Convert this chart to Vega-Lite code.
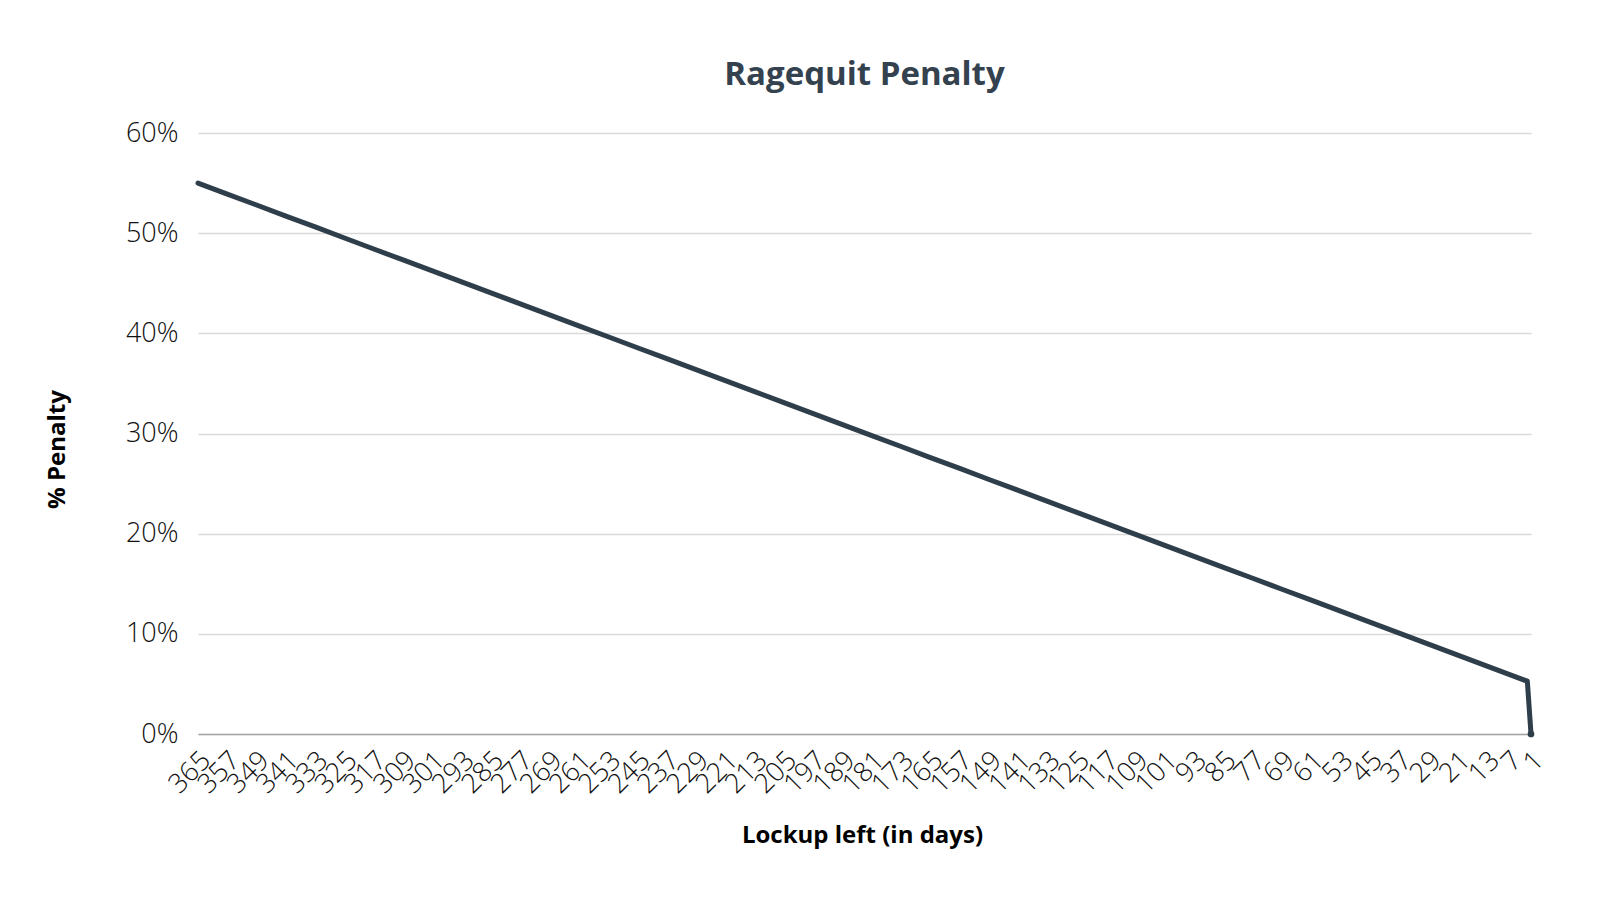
{
  "$schema": "https://vega.github.io/schema/vega-lite/v6.json",
  "width": 1333,
  "height": 601,
  "autosize": {"type": "none"},
  "padding": {"left": 198, "top": 133, "right": 69, "bottom": 166},
  "background": "white",
  "title": {
    "text": "Ragequit Penalty",
    "font": "Open Sans",
    "fontSize": 33,
    "fontWeight": "bold",
    "color": "#34424f",
    "anchor": "middle",
    "baseline": "bottom",
    "frame": "group",
    "offset": 47,
    "dy": 53
  },
  "data": {
    "values": [
      {"days": 365, "penalty": 0.55},
      {"days": 357, "penalty": 0.539},
      {"days": 349, "penalty": 0.5281},
      {"days": 341, "penalty": 0.5171},
      {"days": 333, "penalty": 0.5062},
      {"days": 325, "penalty": 0.4952},
      {"days": 317, "penalty": 0.4842},
      {"days": 309, "penalty": 0.4733},
      {"days": 301, "penalty": 0.4623},
      {"days": 293, "penalty": 0.4514},
      {"days": 285, "penalty": 0.4404},
      {"days": 277, "penalty": 0.4295},
      {"days": 269, "penalty": 0.4185},
      {"days": 261, "penalty": 0.4075},
      {"days": 253, "penalty": 0.3966},
      {"days": 245, "penalty": 0.3856},
      {"days": 237, "penalty": 0.3747},
      {"days": 229, "penalty": 0.3637},
      {"days": 221, "penalty": 0.3527},
      {"days": 213, "penalty": 0.3418},
      {"days": 205, "penalty": 0.3308},
      {"days": 197, "penalty": 0.3199},
      {"days": 189, "penalty": 0.3089},
      {"days": 181, "penalty": 0.2979},
      {"days": 173, "penalty": 0.287},
      {"days": 165, "penalty": 0.276},
      {"days": 157, "penalty": 0.2651},
      {"days": 149, "penalty": 0.2541},
      {"days": 141, "penalty": 0.2432},
      {"days": 133, "penalty": 0.2322},
      {"days": 125, "penalty": 0.2212},
      {"days": 117, "penalty": 0.2103},
      {"days": 109, "penalty": 0.1993},
      {"days": 101, "penalty": 0.1884},
      {"days": 93, "penalty": 0.1774},
      {"days": 85, "penalty": 0.1664},
      {"days": 77, "penalty": 0.1555},
      {"days": 69, "penalty": 0.1445},
      {"days": 61, "penalty": 0.1336},
      {"days": 53, "penalty": 0.1226},
      {"days": 45, "penalty": 0.1116},
      {"days": 37, "penalty": 0.1007},
      {"days": 29, "penalty": 0.0897},
      {"days": 21, "penalty": 0.0788},
      {"days": 13, "penalty": 0.0678},
      {"days": 7, "penalty": 0.0596},
      {"days": 2, "penalty": 0.0527},
      {"days": 1, "penalty": 0}
    ]
  },
  "encoding": {
    "x": {
      "field": "days",
      "type": "quantitative",
      "scale": {"domain": [365, 1], "nice": false, "zero": false},
      "axis": {
        "title": "Lockup left (in days)",
        "values": [365, 357, 349, 341, 333, 325, 317, 309, 301, 293, 285, 277, 269, 261, 253, 245, 237, 229, 221, 213, 205, 197, 189, 181, 173, 165, 157, 149, 141, 133, 125, 117, 109, 101, 93, 85, 77, 69, 61, 53, 45, 37, 29, 21, 13, 7, 1],
        "labelAngle": -45,
        "labelAlign": "right",
        "labelBaseline": "middle",
        "labelFont": "Open Sans",
        "labelFontSize": 27,
        "labelFontWeight": 300,
        "labelColor": "#111111",
        "labelPadding": 22,
        "labelOffset": 8,
        "labelOverlap": false,
        "labelFlush": false,
        "labelBound": false,
        "ticks": false,
        "grid": false,
        "domain": true,
        "domainColor": "#a6a6a6",
        "domainWidth": 1.5,
        "titleFont": "Open Sans",
        "titleFontSize": 24,
        "titleFontWeight": "bold",
        "titleColor": "#000000",
        "titleX": 664,
        "titleY": 101,
        "titleBaseline": "middle",
        "titleAnchor": "middle"
      }
    },
    "y": {
      "field": "penalty",
      "type": "quantitative",
      "scale": {"domain": [0, 0.6], "nice": false},
      "axis": {
        "title": "% Penalty",
        "format": ".0%",
        "values": [0, 0.1, 0.2, 0.3, 0.4, 0.5, 0.6],
        "labelFont": "Open Sans",
        "labelFontSize": 27,
        "labelFontWeight": 300,
        "labelColor": "#111111",
        "labelPadding": 20,
        "ticks": false,
        "domain": false,
        "grid": true,
        "gridColor": "#d9d9d9",
        "gridWidth": 1.5,
        "titleFont": "Open Sans",
        "titleFontSize": 24,
        "titleFontWeight": "bold",
        "titleColor": "#000000",
        "titleAngle": -90,
        "titleX": -141,
        "titleY": 316,
        "titleBaseline": "middle",
        "titleAlign": "center"
      }
    }
  },
  "layer": [
    {
      "mark": {"type": "line", "color": "#2f3e4b", "strokeWidth": 5, "strokeCap": "round", "strokeJoin": "round"}
    },
    {
      "transform": [{"filter": "datum.days == 1"}],
      "mark": {"type": "point", "filled": true, "color": "#2f3e4b", "size": 45, "opacity": 1}
    }
  ],
  "config": {"view": {"stroke": null}}
}
